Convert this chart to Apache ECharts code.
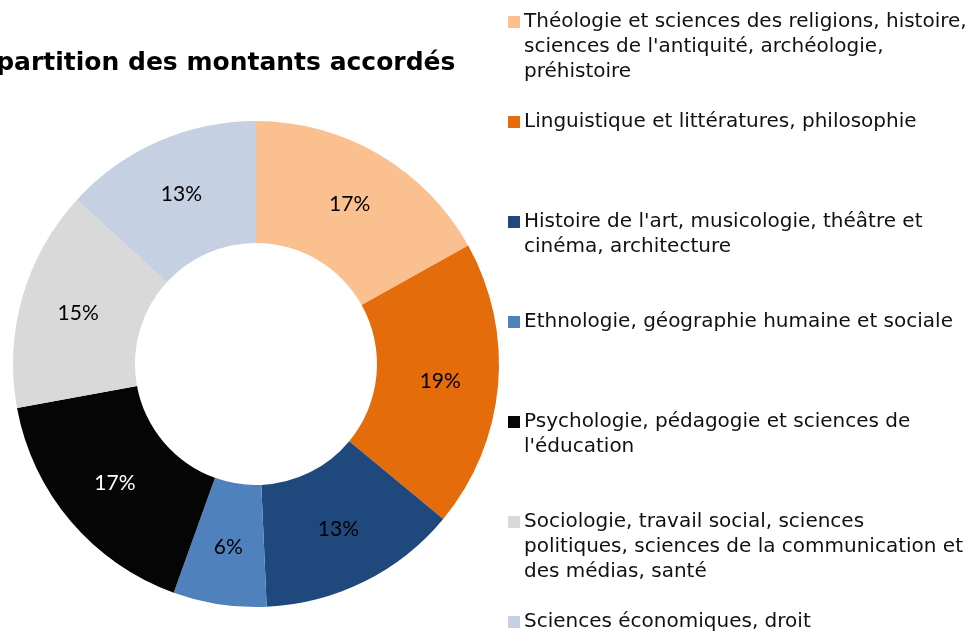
<!DOCTYPE html>
<html>
<head>
<meta charset="utf-8">
<title>Répartition des montants accordés</title>
<script src="https://cdn.jsdelivr.net/npm/echarts@6/dist/echarts.min.js"></script>
<style>
  html, body { margin: 0; padding: 0; background: #fff; }
  #main { width: 974px; height: 634px; }
</style>
</head>
<body>
<div id="main"></div>
<script>
// domaines (texte de légende, découpé en lignes comme dans l'original)
var domaines = [
  ['Théologie et sciences des religions, histoire,', "sciences de l'antiquité, archéologie,", 'préhistoire'],
  ['Linguistique et littératures, philosophie'],
  ["Histoire de l'art, musicologie, théâtre et", 'cinéma, architecture'],
  ['Ethnologie, géographie humaine et sociale'],
  ['Psychologie, pédagogie et sciences de', "l'éducation"],
  ['Sociologie, travail social, sciences', 'politiques, sciences de la communication et', 'des médias, santé'],
  ['Sciences économiques, droit']
];
// part des montants accordés (%)
var parts = [16.9, 19.1, 13.3, 6.2, 16.6, 14.7, 13.2];
var couleurs = ['#FAC090', '#E46C0A', '#1F497D', '#4F81BD', '#050505', '#D9D9D9', '#C6D0E3'];
var couleursEtiquettes = ['#000', '#000', '#000', '#000', '#fff', '#000', '#000'];

var myChart = echarts.init(document.getElementById('main'));

var noms = domaines.map(function (l) { return l.join(' '); });
var lh = 25;   // hauteur de ligne de la légende
var police = 'DejaVu Sans';

// une légende par domaine, le carré aligné sur la première ligne
var legendes = domaines.map(function (lignes, i) {
  var n = lignes.length;
  var avant = new Array(n).join('\n');   // n-1 lignes vides au-dessus
  var h = (2 * n - 1) * lh;
  return {
    orient: 'vertical',
    left: 508,
    top: 22 + i * 100 - h / 2,
    padding: 0,
    itemWidth: 12,
    itemHeight: 12,
    itemGap: 0,
    icon: 'rect',
    selectedMode: false,
    data: [noms[i]],
    formatter: function () { return avant + lignes.join('\n'); },
    textStyle: {
      fontFamily: police,
      fontSize: 20,
      color: '#111',
      lineHeight: lh,
      padding: [0, 0, 0, -1]
    }
  };
});

var option = {
  animation: false,
  title: {
    text: 'Répartition des montants accordés',
    left: -45,
    top: 46,
    textStyle: {
      fontFamily: police,
      fontWeight: 'bold',
      fontSize: 25,
      color: '#000'
    }
  },
  legend: legendes,
  series: [
    {
      name: 'Répartition',
      type: 'pie',
      center: [256, 364],
      radius: [121, 243],
      startAngle: 90,
      clockwise: true,
      avoidLabelOverlap: false,
      label: {
        show: true,
        position: 'inside',
        fontFamily: 'Lato',
        fontSize: 21,
        padding: [4, 0, 0, 0],
        formatter: function (p) { return Math.round(p.value) + '%'; }
      },
      labelLine: { show: false },
      emphasis: { scale: false },
      data: parts.map(function (v, i) {
        return {
          name: noms[i],
          value: v,
          itemStyle: { color: couleurs[i] },
          label: { color: couleursEtiquettes[i] }
        };
      })
    }
  ]
};

myChart.setOption(option);
window.onresize = myChart.resize;
</script>
</body>
</html>
